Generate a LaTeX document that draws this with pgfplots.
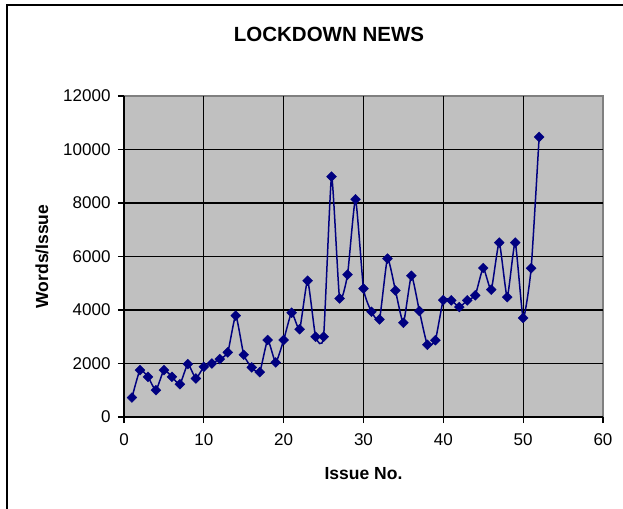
\documentclass[border=0pt]{standalone}
\usepackage{pgfplots}
\pgfplotsset{compat=1.18}
\usepackage{fontspec}
\setmainfont{Liberation Sans}
\definecolor{navyc}{HTML}{000080}
\definecolor{plotbg}{HTML}{C0C0C0}
\definecolor{bordergray}{HTML}{808080}
\begin{document}
\begin{tikzpicture}
\useasboundingbox (0,0) rectangle (623bp,509bp);
\fill[white] (0,0) rectangle (623bp,509bp);
\draw[line width=1.5bp] (7bp,-5bp) rectangle (630bp,504bp);
\begin{axis}[
  at={(124bp,92bp)}, anchor=south west,
  scale only axis, width=479bp, height=321bp,
  xmin=0, xmax=60, ymin=0, ymax=12000,
  axis x line=bottom, axis y line=left,
  axis line style={black, line width=1.3bp, -},
  axis background/.style={fill=plotbg, draw=bordergray, line width=2bp},
  xtick={0,10,...,50}, ytick={0,2000,...,10000},
  extra x ticks={60}, extra y ticks={12000},
  extra tick style={grid=none},
  grid=major, major grid style={black, line width=1.3bp},
  tick align=outside, major tick length=6bp,
  tick style={black, line width=1.3bp},
  /pgf/number format/assume math mode=true,
  scaled y ticks=false,
  yticklabel style={/pgf/number format/1000 sep={}, xshift=-4bp},
  xticklabel style={yshift=-7bp},
  ticklabel style={font=\fontsize{17bp}{20bp}\selectfont},
  title={LOCKDOWN NEWS},
  title style={font=\fontsize{20.5bp}{24bp}\selectfont\bfseries, anchor=center, at={(axis description cs:0,1)}, xshift=205bp, yshift=56bp},
  xlabel={Issue No.},
  xlabel style={font=\fontsize{17.5bp}{20bp}\selectfont\bfseries, anchor=center, at={(axis description cs:0.5,0)}, yshift=-57bp},
  ylabel={Words/Issue},
  ylabel style={font=\fontsize{17.5bp}{20bp}\selectfont\bfseries, anchor=center, at={(axis description cs:-0.1712,0.5)}},
]
\addplot[navyc, line width=1.5bp, smooth, tension=0.3, mark=square*, mark size=3.5bp, mark options={rotate=45, fill=navyc, draw=navyc, line width=0.4bp}] coordinates {
(1,728) (2,1752) (3,1501) (4,1002) (5,1752) (6,1501) (7,1227) (8,1977) (9,1441) (10,1876)
(11,2000) (12,2165) (13,2415) (14,3790) (15,2327) (16,1852) (17,1677) (18,2878) (19,2040) (20,2878)
(21,3900) (22,3280) (23,5096) (24,3000) (25,3000) (26,8985) (27,4430) (28,5320) (29,8140) (30,4797)
(31,3935) (32,3650) (33,5920) (34,4730) (35,3525) (36,5280) (37,3960) (38,2700) (39,2870) (40,4370)
(41,4360) (42,4110) (43,4360) (44,4550) (45,5570) (46,4760) (47,6520) (48,4480) (49,6520) (50,3700)
(51,5560) (52,10470)
};
\end{axis}
\end{tikzpicture}
\end{document}
